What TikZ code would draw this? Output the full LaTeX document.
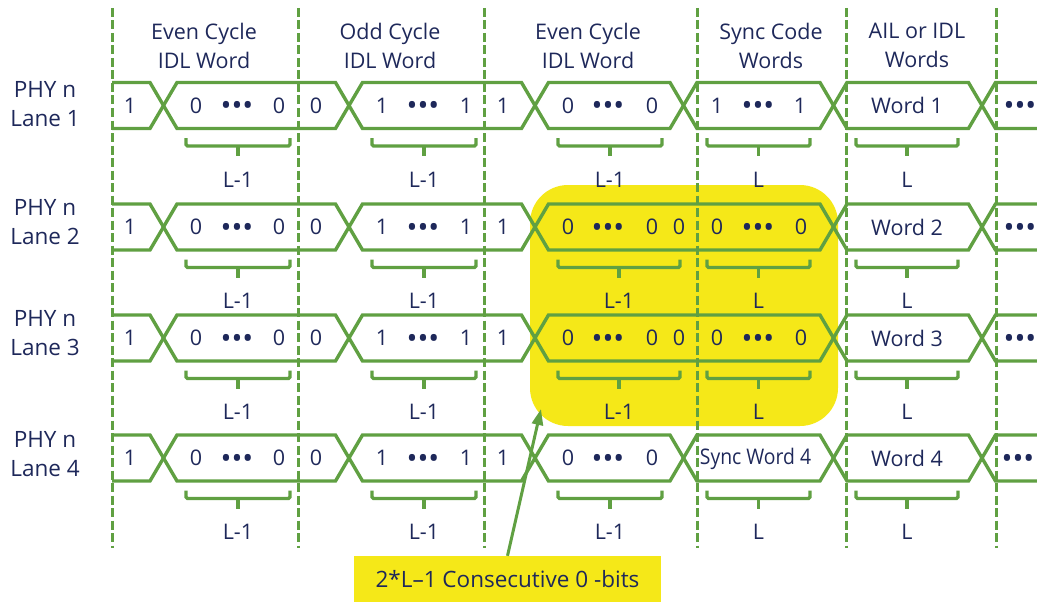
\documentclass[tikz,border=0pt]{standalone}
\usepackage{fontspec}
\setmainfont{Open Sans}
\usetikzlibrary{arrows.meta}

\definecolor{wire}{RGB}{96,160,66}
\definecolor{ink}{RGB}{30,40,90}
\definecolor{hlyellow}{RGB}{245,232,24}

\tikzset{
  bus/.style={draw=wire, line width=3.4pt, line join=miter},
  brk/.style={draw=wire, line width=3.2pt, rounded corners=1.5pt},
  grid/.style={draw=wire, line width=3pt, dash pattern=on 9pt off 3.5pt},
  bit/.style={text=ink, font=\fontsize{21.5}{25}\selectfont, inner sep=0pt, anchor=center},
  head/.style={text=ink, font=\fontsize{21.5}{29}\selectfont, align=center, inner sep=0pt},
  lanelabel/.style={text=ink, font=\fontsize{22.5}{29}\selectfont, align=center, inner sep=0pt},
}

% ellipsis of three heavy dots, centred on the cell's middle line
\newcommand\tridots{\raisebox{-10.4pt}[0pt][0pt]{\fontsize{29}{29}\selectfont •••}}

% one zig-zag rail of a bus lane: #1 centre y, #2 start side (1 = top, -1 = bottom), #3 crossing centres
\newcommand\rail[3]{%
  \draw[bus] (112,{#1-23*#2})
    foreach \c [count=\i] in {#3,1070} {
      -- ({\c-13.5},{#1-23*#2*cos(180*(\i+1))})
      -- ({\c+13.5},{#1+23*#2*cos(180*(\i+1))})
    };
}
\newcommand\buslane[2]{\rail{#1}{1}{#2}\rail{#1}{-1}{#2}}

% text cells of a lane: #1 lane id, #2 centre y, #3 list x/text
\newcommand\cells[3]{%
  \foreach \x/\t [count=\k] in {#3}
    \node[bit] (c#1-\k) at (\x,#2) {\t};
}

% bracket under a bit group with its length label
\newcommand\grp[5]{%
  \draw[brk] (#2,{#4+32.5}) -- (#2,{#4+40.5}) -- (#3,{#4+40.5}) -- (#3,{#4+32.5});
  \draw[brk] ({(#2+#3)/2},{#4+40.5}) -- ({(#2+#3)/2},{#4+50.5});
  \node[bit] (#1) at ({(#2+#3)/2},{#4+74}) {#5};
}

\begin{document}
\begin{tikzpicture}[x=1pt,y=-1pt]
\useasboundingbox (0,0) rectangle (1037,602);
\clip (0,0) rectangle (1037,602);

% region of consecutive zero bits
\node[fill=hlyellow, rounded corners=38pt, minimum width=308pt, minimum height=241pt,
      inner sep=0pt] (zeros) at (684,305.5) {};

% word boundaries
\foreach \x [count=\k] in {112,298,484,697,846,996} {
  \coordinate (top\k) at (\x,8);
  \coordinate (bot\k) at (\x,548);
  \draw[grid] (top\k) -- (bot\k);
}

% column headings
\node[head] (h1) at (204,45.5) {Even Cycle\\IDL Word};
\node[head] (h2) at (390,45.5) {Odd Cycle\\IDL Word};
\node[head] (h3) at (588,45.5) {Even Cycle\\IDL Word};
\node[head] (h4) at (771,45.5) {Sync Code\\Words};
\node[head] (h5) at (917,45.5) {AIL or IDL\\Words};

% lane names
\node[lanelabel] (n1) at (45,104) {PHY n\\Lane 1};
\node[lanelabel] (n2) at (45,222) {PHY n\\Lane 2};
\node[lanelabel] (n3) at (45,333) {PHY n\\Lane 3};
\node[lanelabel] (n4) at (45,454.5) {PHY n\\Lane 4};

% bus outlines
\buslane{105.5}{163.5,349,535,683.5,833.5,982}
\buslane{227}{163.5,349,535,833.5,982}
\buslane{338}{163.5,349,535,833.5,982}
\buslane{458}{163.5,349,535,683.5,833.5,982}

% bit values
\cells{1}{105.5}{130/1,196/0,237/\tridots,279/0,316/0,382/1,423/\tridots,466/1,503/1,568/0,608/\tridots,652/0,717/1,758/\tridots,800/1,907/Word 1,1020/\tridots}
\cells{2}{227}{130/1,196/0,237/\tridots,279/0,316/0,382/1,423/\tridots,466/1,503/1,568/0,608/\tridots,652/0,679/0,717/0,758/\tridots,801/0,907/Word 2,1020/\tridots}
\cells{3}{338}{130/1,196/0,237/\tridots,279/0,316/0,382/1,423/\tridots,466/1,503/1,568/0,608/\tridots,652/0,679/0,717/0,758/\tridots,801/0,907/Word 3,1020/\tridots}
\cells{4}{458}{130/1,196/0,237/\tridots,279/0,316/0,382/1,423/\tridots,466/1,503/1,568/0,608/\tridots,652/0,907/Word 4,1018/\tridots}
\node[bit, xscale=0.9] (sync4) at (755.5,459) {Sync Word 4};

% group lengths
\grp{g1a}{186}{290}{105.5}{L-1}
\grp{g1b}{372}{476}{105.5}{L-1}
\grp{g1c}{558}{662}{105.5}{L-1}
\grp{g1d}{707}{810}{105.5}{L}
\grp{g1e}{856}{958}{105.5}{L}

\grp{g2a}{186}{290}{227}{L-1}
\grp{g2b}{372}{476}{227}{L-1}
\grp{g2c}{558}{680}{227}{L-1}
\grp{g2d}{707}{810}{227}{L}
\grp{g2e}{856}{958}{227}{L}

\grp{g3a}{186}{290}{338}{L-1}
\grp{g3b}{372}{476}{338}{L-1}
\grp{g3c}{558}{680}{338}{L-1}
\grp{g3d}{707}{810}{338}{L}
\grp{g3e}{856}{958}{338}{L}

\grp{g4a}{186}{290}{458}{L-1}
\grp{g4b}{372}{476}{458}{L-1}
\grp{g4c}{558}{662}{458}{L-1}
\grp{g4d}{707}{810}{458}{L}
\grp{g4e}{856}{958}{458}{L}

% annotation
\node[fill=hlyellow, text=ink, font=\fontsize{22.5}{25}\selectfont, minimum width=307pt,
      minimum height=46pt, inner sep=0pt] (note) at (507.5,579) {2*L–1 Consecutive 0 -bits};
\coordinate (tip) at (541,409);
\draw[wire, line width=3pt, -{Triangle[length=16pt,width=11pt]}] (note.north) -- (tip);
\end{tikzpicture}
\end{document}
